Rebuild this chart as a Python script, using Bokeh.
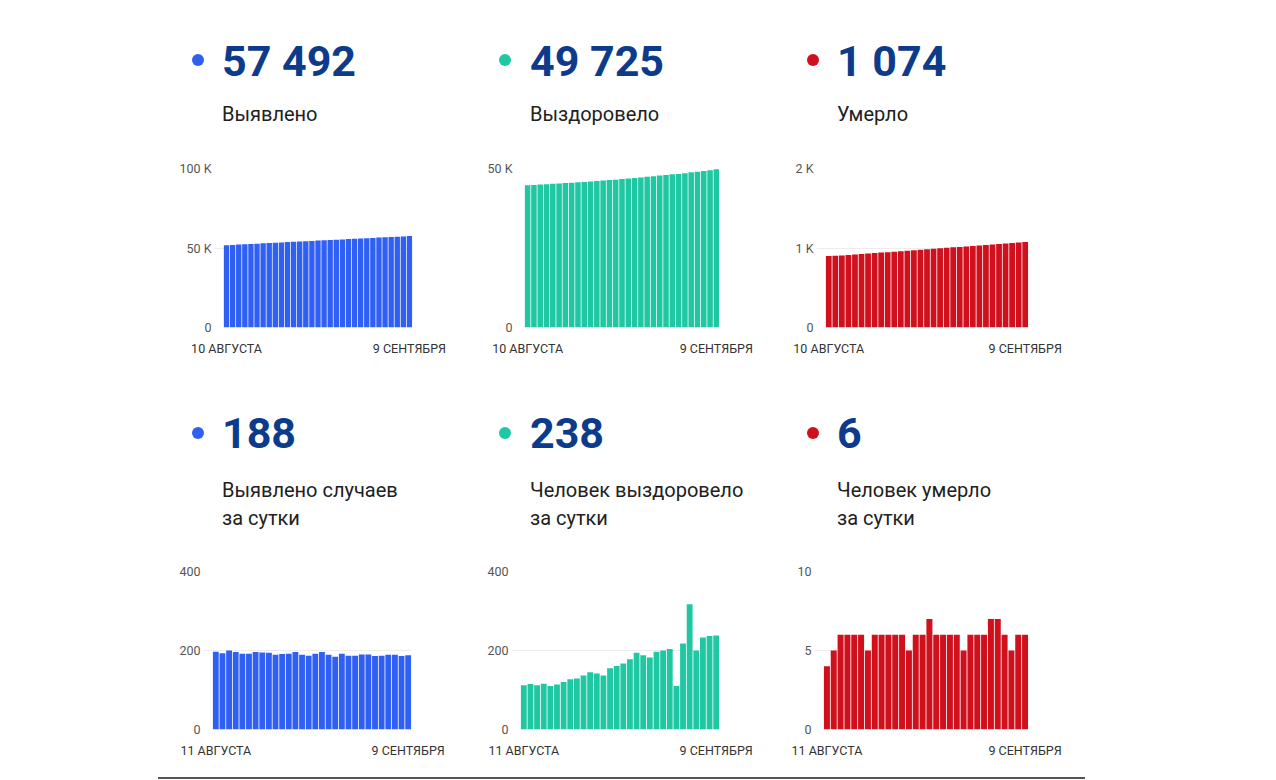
from bokeh.plotting import figure
from bokeh.layouts import row, column, Spacer
from bokeh.models import Div, Range1d, FixedTicker
from bokeh.embed import file_html
from bokeh.resources import INLINE

# ---------------- data ----------------
cum_date_labels = ["10 АВГУСТА", "9 СЕНТЯБРЯ"]      # 10 Aug .. 9 Sep (31 days)
daily_date_labels = ["11 АВГУСТА", "9 СЕНТЯБРЯ"]    # 11 Aug .. 9 Sep (30 days)

detected_total = [51761, 51958, 52151, 52351, 52547, 52739, 52931, 53127, 53322, 53516,
                  53705, 53896, 54088, 54284, 54473, 54660, 54852, 55048, 55237, 55421,
                  55613, 55800, 55987, 56177, 56367, 56553, 56740, 56929, 57118, 57304, 57492]
recovered_total = [44730, 44842, 44957, 45069, 45185, 45295, 45409, 45529, 45656, 45785,
                   45922, 46067, 46209, 46346, 46501, 46662, 46829, 47007, 47201, 47389,
                   47571, 47768, 47968, 48172, 48282, 48500, 48817, 49017, 49250, 49487, 49725]
deaths_total = [898, 902, 907, 913, 919, 925, 931, 936, 942, 948,
                954, 960, 966, 971, 977, 983, 990, 996, 1002, 1008,
                1014, 1019, 1025, 1031, 1037, 1044, 1051, 1057, 1062, 1068, 1074]

detected_daily = [197, 193, 200, 196, 192, 192, 196, 195, 194, 189,
                  191, 192, 196, 189, 187, 192, 196, 189, 184, 192,
                  187, 187, 190, 190, 186, 187, 189, 189, 186, 188]
recovered_daily = [112, 115, 112, 116, 110, 114, 120, 127, 129, 137,
                   145, 142, 137, 155, 161, 167, 178, 194, 188, 182,
                   197, 200, 204, 110, 218, 317, 200, 233, 237, 238]
deaths_daily = [4, 5, 6, 6, 6, 6, 5, 6, 6, 6,
                6, 6, 5, 6, 6, 7, 6, 6, 6, 6,
                5, 6, 6, 6, 7, 7, 6, 5, 6, 6]

headline_numbers = ["57 492", "49 725", "1 074", "188", "238", "6"]
headline_labels = ["Выявлено", "Выздоровело", "Умерло",
                   "Выявлено случаев<br>за сутки", "Человек выздоровело<br>за сутки",
                   "Человек умерло<br>за сутки"]

top_y_max = [100000, 50000, 2000]
top_ticks = [[0, 50000, 100000], [0, 50000], [0, 1000, 2000]]
top_tick_labels = [["0", "50 K", "100 K"], ["0", "50 K"], ["0", "1 K", "2 K"]]
bottom_y_max = [400, 400, 10]
bottom_ticks = [[0, 200, 400], [0, 200, 400], [0, 5, 10]]
bottom_tick_labels = [["0", "200", "400"], ["0", "200", "400"], ["0", "5", "10"]]

# ---------------- styles ----------------
BLUE = "#2f5ff3"
TEAL = "#1fc8a3"
RED = "#d0111d"
NUM_COLOR = "#0d3b8c"
TEXT_COLOR = "#212121"
FONT = "Roboto"
PANEL_W = 309


def make_chart(values, color, y_max, ticks, tick_labels, x_labels,
               frame_left, frame_right_margin, frame_h, mbt, mbb):
    n = len(values)
    frame_w = PANEL_W - frame_left - frame_right_margin
    pad = 9.0 * n / (frame_w - 9.0)
    p = figure(width=PANEL_W, height=mbt + frame_h + mbb,
               x_range=Range1d(-0.5 - pad, n - 0.5), y_range=Range1d(0, y_max),
               output_backend="svg", toolbar_location=None,
               min_border_left=frame_left, min_border_right=frame_right_margin,
               min_border_top=mbt, min_border_bottom=mbb)
    p.vbar(x=list(range(n)), top=values, width=0.88, fill_color=color, line_color=None)
    p.outline_line_color = None
    p.background_fill_color = "white"
    p.border_fill_color = "white"
    p.xgrid.grid_line_color = None
    p.ygrid.grid_line_color = "#ececec"
    p.ygrid.grid_line_width = 1

    xa = p.xaxis[0]
    xa.ticker = FixedTicker(ticks=[0, n - 1])
    xa.major_label_overrides = {0: x_labels[0], n - 1: x_labels[1]}
    xa.axis_line_color = None
    xa.major_tick_line_color = None
    xa.minor_tick_line_color = None
    xa.major_tick_out = 0
    xa.major_tick_in = 0
    xa.major_label_standoff = 13
    xa.major_label_text_font = FONT
    xa.major_label_text_font_size = "12.5px"
    xa.major_label_text_color = "#333333"

    ya = p.yaxis[0]
    ya.ticker = FixedTicker(ticks=ticks)
    ya.major_label_overrides = {t: l for t, l in zip(ticks, tick_labels)}
    ya.axis_line_color = None
    ya.major_tick_line_color = None
    ya.minor_tick_line_color = None
    ya.major_tick_out = 0
    ya.major_tick_in = 0
    ya.major_label_standoff = 3
    ya.major_label_text_font = FONT
    ya.major_label_text_font_size = "12.5px"
    ya.major_label_text_color = "#555555"
    return p


def make_header(color, number, label, height, dot_cx, dot_cy, text_left, num_top, label_top):
    html = (
        f'<div style="position:relative;width:{PANEL_W}px;height:{height}px;'
        f'font-family:Roboto,sans-serif;">'
        f'<div style="position:absolute;left:{dot_cx - 6}px;top:{dot_cy - 6}px;width:12px;height:12px;'
        f'border-radius:50%;background:{color};"></div>'
        f'<div style="position:absolute;left:{text_left}px;top:{num_top}px;font-size:43px;font-weight:700;'
        f'line-height:1;color:{NUM_COLOR};white-space:nowrap;">{number}</div>'
        f'<div style="position:absolute;left:{text_left}px;top:{label_top}px;font-size:20px;'
        f'line-height:28px;color:{TEXT_COLOR};white-space:nowrap;">{label}</div>'
        f'</div>'
    )
    return Div(text=html, width=PANEL_W, height=height, margin=0)


colors = [BLUE, TEAL, RED]
top_series = [detected_total, recovered_total, deaths_total]
bottom_series = [detected_daily, recovered_daily, deaths_daily]
dot_cx = [39.5, 38, 37]
text_left = [64, 63, 61]
top_frame_left = [56, 48, 40]
top_frame_right = [55, 57, 57]
bottom_frame_left = [45, 44, 38]
bottom_frame_right = [56, 57, 57]

top_panels = []
for i in range(3):
    h = make_header(colors[i], headline_numbers[i], headline_labels[i],
                    150, dot_cx[i], 60, text_left[i], 40, 100)
    c = make_chart(top_series[i], colors[i], top_y_max[i], top_ticks[i], top_tick_labels[i],
                   cum_date_labels, top_frame_left[i], top_frame_right[i], 159, 18, 33)
    top_panels.append(column(h, c, spacing=0))

bottom_panels = []
for i in range(3):
    h = make_header(colors[i], headline_numbers[i + 3], headline_labels[i + 3],
                    193, dot_cx[i], 73, text_left[i], 52, 116)
    c = make_chart(bottom_series[i], colors[i], bottom_y_max[i], bottom_ticks[i],
                   bottom_tick_labels[i], daily_date_labels,
                   bottom_frame_left[i], bottom_frame_right[i], 158, 18, 33)
    bottom_panels.append(column(h, c, spacing=0))

line_div = Div(text='<div style="position:relative;width:927px;height:17px;">'
                    '<div style="position:absolute;left:0;top:15px;width:927px;height:2px;'
                    'background:#555555;"></div></div>', width=927, height=17, margin=0)

layout = row(Spacer(width=158, height=10, margin=0),
             column(row(*top_panels, spacing=0), row(*bottom_panels, spacing=0), line_div,
                    spacing=0),
             spacing=0)

open("out.html", "w").write(file_html(layout, INLINE))
